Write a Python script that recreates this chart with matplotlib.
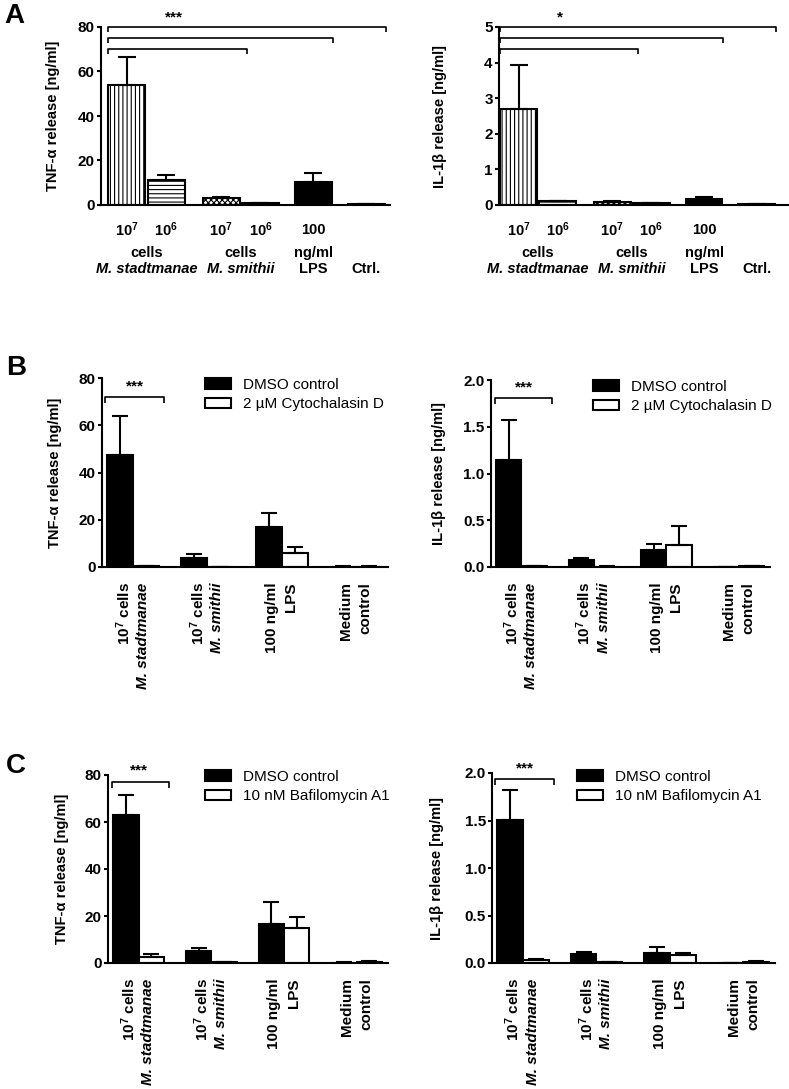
import numpy as np
import matplotlib.pyplot as plt
from matplotlib.ticker import FormatStrFormatter

plt.rcParams['font.family'] = ['Liberation Sans', 'DejaVu Sans']
plt.rcParams['font.weight'] = 'bold'
plt.rcParams['mathtext.fontset'] = 'custom'
plt.rcParams['mathtext.rm'] = 'Liberation Sans:bold'
plt.rcParams['mathtext.it'] = 'Liberation Sans:italic:bold'
plt.rcParams['mathtext.bf'] = 'Liberation Sans:bold'
plt.rcParams['hatch.linewidth'] = 0.8

# ---------------- panel A: dose comparison ----------------
a_pos = [0, 1, 2.4, 3.4, 4.75, 6.1]
a_hatch = ['||||', '----', 'xxxxxx', 'xxxxxx', '', '']
a_face = ['white', 'white', 'white', 'black', 'black', 'white']
tnf_a_mean = [54, 11.2, 3.0, 0.8, 10.5, 0.3]
tnf_a_sem = [12.5, 2.3, 0.8, 0.2, 3.7, 0.1]
il1_a_mean = [2.7, 0.11, 0.09, 0.05, 0.17, 0.03]
il1_a_sem = [1.23, 0.01, 0.01, 0.005, 0.06, 0.005]

a_dose = ['10$^7$', '10$^6$', '10$^7$', '10$^6$', '100']
a_unit = ['cells', 'cells', 'ng/ml']
a_unit_x = [0.5, 2.9, 4.75]
a_name = ['M. stadtmanae', 'M. smithii', 'LPS', 'Ctrl.']
a_name_x = [0.5, 2.9, 4.75, 6.1]
a_name_italic = [True, True, False, False]

# brackets: (height, right end)
tnf_a_brackets = [(80, 6.6), (75, 5.24), (70, 3.06)]
il1_a_brackets = [(5.0, 6.6), (4.69, 5.24), (4.38, 3.06)]

# ---------------- panels B / C: inhibitor vs DMSO ----------------
groups = [0, 1, 2, 3]
grp_line1 = ['10$^7$ cells', '10$^7$ cells', '100 ng/ml', 'Medium']
grp_line2 = ['M. stadtmanae', 'M. smithii', 'LPS', 'control']
grp_italic = [True, True, False, False]

tnf_b_dmso = [47.5, 4.0, 17.0, 0.2]
tnf_b_dmso_sem = [16.5, 1.4, 6.0, 0.05]
tnf_b_cyto = [0.3, 0.1, 6.1, 0.2]
tnf_b_cyto_sem = [0.05, 0.05, 2.4, 0.05]

il1_b_dmso = [1.14, 0.079, 0.186, 0.003]
il1_b_dmso_sem = [0.43, 0.021, 0.064, 0.002]
il1_b_cyto = [0.01, 0.005, 0.24, 0.01]
il1_b_cyto_sem = [0.002, 0.001, 0.195, 0.002]

tnf_c_dmso = [63.0, 5.3, 16.8, 0.2]
tnf_c_dmso_sem = [8.5, 1.0, 9.0, 0.05]
tnf_c_bafi = [2.5, 0.4, 14.8, 0.6]
tnf_c_bafi_sem = [1.2, 0.1, 4.7, 0.2]

il1_c_dmso = [1.51, 0.10, 0.11, 0.002]
il1_c_dmso_sem = [0.31, 0.02, 0.055, 0.001]
il1_c_bafi = [0.03, 0.01, 0.087, 0.015]
il1_c_bafi_sem = [0.01, 0.002, 0.023, 0.005]


def style_axis(ax, ylim, yticks, fmt, ylabel, label_x):
    ax.set_ylim(*ylim)
    ax.set_yticks(yticks)
    ax.yaxis.set_major_formatter(FormatStrFormatter(fmt))
    for s in ['top', 'right']:
        ax.spines[s].set_visible(False)
    for s in ['left', 'bottom']:
        ax.spines[s].set_linewidth(1.5)
    ax.set_xticks([])
    ax.tick_params(axis='y', length=3, width=1.5, pad=1.5, labelsize=11)
    ax.set_ylabel(ylabel, fontsize=10.5, fontweight='bold')
    ax.yaxis.set_label_coords(label_x, 0.5)


def bracket(ax, x0, x1, y, tick, lw=1.2):
    ax.plot([x0, x0, x1, x1], [y - tick, y, y, y - tick], color='k', lw=lw,
            clip_on=False, solid_capstyle='butt')


def panel_a(ax, mean, sem, ylim, yticks, ylabel, label_x, brackets, tick, stars, star_xy, xlim):
    for x, m, h, f in zip(a_pos, mean, a_hatch, a_face):
        ax.bar(x, m, width=0.94, color=f, edgecolor='black', linewidth=1.5, hatch=h)
    ax.errorbar(a_pos, mean, yerr=[np.zeros(len(sem)), sem], fmt='none', ecolor='black',
                elinewidth=1.5, capsize=6.5, capthick=1.5)
    ax.set_xlim(*xlim)
    style_axis(ax, ylim, yticks, '%d', ylabel, label_x)
    for y, x1 in brackets:
        bracket(ax, -0.47, x1, y, tick)
    ax.text(star_xy[0], star_xy[1], stars, ha='center', va='center', fontsize=11,
            clip_on=False)
    tr = ('data', 'axes fraction')
    for x, t in zip(a_pos, a_dose):
        ax.annotate(t, (x, 0), xycoords=tr, xytext=(0, -18), textcoords='offset points',
                    ha='center', va='center', fontsize=10.5)
    for x, t in zip(a_unit_x, a_unit):
        ax.annotate(t, (x, 0), xycoords=tr, xytext=(0, -34.5), textcoords='offset points',
                    ha='center', va='center', fontsize=10.5)
    for x, t, it in zip(a_name_x, a_name, a_name_italic):
        ax.annotate(t, (x, 0), xycoords=tr, xytext=(0, -46), textcoords='offset points',
                    ha='center', va='center', fontsize=10.5,
                    style='italic' if it else 'normal')


def panel_bc(ax, dmso, dmso_sem, treat, treat_sem, treat_label, ylim, yticks, fmt,
             ylabel, label_x, br, star_xy, leg_anchor):
    w = 0.35
    xd = np.array(groups) - w / 2
    xt = np.array(groups) + w / 2
    b1 = ax.bar(xd, dmso, width=w, color='black', edgecolor='black', linewidth=1.5,
                label='DMSO control')
    b2 = ax.bar(xt, treat, width=w, color='white', edgecolor='black', linewidth=1.5,
                label=treat_label)
    ax.errorbar(xd, dmso, yerr=[np.zeros(4), dmso_sem], fmt='none', ecolor='black',
                elinewidth=1.5, capsize=5.5, capthick=1.5)
    ax.errorbar(xt, treat, yerr=[np.zeros(4), treat_sem], fmt='none', ecolor='black',
                elinewidth=1.5, capsize=5.5, capthick=1.5)
    ax.set_xlim(-0.42, 3.43)
    style_axis(ax, ylim, yticks, fmt, ylabel, label_x)
    bracket(ax, br[0], br[1], br[2], br[3])
    ax.text(star_xy[0], star_xy[1], '***', ha='center', va='center', fontsize=11,
            clip_on=False)
    ax.legend(handles=[b1, b2], loc='upper left', bbox_to_anchor=leg_anchor, frameon=False,
              borderpad=0, borderaxespad=0, handlelength=1.7, handleheight=0.7,
              handletextpad=0.8, labelspacing=0.35, prop={'weight': 'normal', 'size': 11})
    tr = ('data', 'axes fraction')
    for g, l1, l2, it in zip(groups, grp_line1, grp_line2, grp_italic):
        ax.annotate(l1, (g, 0), xycoords=tr, xytext=(-7, -11), textcoords='offset points',
                    ha='center', va='top', rotation=90, fontsize=11)
        ax.annotate(l2, (g, 0), xycoords=tr, xytext=(7, -11), textcoords='offset points',
                    ha='center', va='top', rotation=90, fontsize=11,
                    style='italic' if it else 'normal')


W, H = 789, 1089
fig = plt.figure(figsize=(W / 100, H / 100), dpi=100)


def add_axes(x0, x1, y0, y1):
    return fig.add_axes([x0 / W, 1 - y1 / H, (x1 - x0) / W, (y1 - y0) / H])


ax = add_axes(101, 390, 27, 205)
panel_a(ax, tnf_a_mean, tnf_a_sem, (0, 80), [0, 20, 40, 60, 80], 'TNF-α release [ng/ml]',
        -0.142, tnf_a_brackets, 2.2, '***', (1.2, 84.5), (-0.66, 6.7))
ax = add_axes(499, 788, 27, 205)
panel_a(ax, il1_a_mean, il1_a_sem, (0, 5), [0, 1, 2, 3, 4, 5], 'IL-1β release [ng/ml]',
        -0.18, il1_a_brackets, 0.14, '*', (1.06, 5.28), (-0.5, 6.9))

ax = add_axes(102, 388, 378, 567)
panel_bc(ax, tnf_b_dmso, tnf_b_dmso_sem, tnf_b_cyto, tnf_b_cyto_sem, '2 µM Cytochalasin D',
         (0, 80), [0, 20, 40, 60, 80], '%d', 'TNF-α release [ng/ml]', -0.14,
         (-0.38, 0.42, 72, 2.5), (0.03, 76.5), (0.36, 1.0))
ax = add_axes(491, 770, 380, 567)
panel_bc(ax, il1_b_dmso, il1_b_dmso_sem, il1_b_cyto, il1_b_cyto_sem, '2 µM Cytochalasin D',
         (0, 2.0), [0, 0.5, 1.0, 1.5, 2.0], '%.1f', 'IL-1β release [ng/ml]', -0.161,
         (-0.36, 0.42, 1.81, 0.065), (0.03, 1.92), (0.366, 1.0))

ax = add_axes(108, 388, 775, 963)
panel_bc(ax, tnf_c_dmso, tnf_c_dmso_sem, tnf_c_bafi, tnf_c_bafi_sem, '10 nM Bafilomycin A1',
         (0, 80), [0, 20, 40, 60, 80], '%d', 'TNF-α release [ng/ml]', -0.139,
         (-0.36, 0.42, 77, 2.5), (0.0, 82), (0.346, 1.027))
ax = add_axes(492, 775, 773, 963)
panel_bc(ax, il1_c_dmso, il1_c_dmso_sem, il1_c_bafi, il1_c_bafi_sem, '10 nM Bafilomycin A1',
         (0, 2.0), [0, 0.5, 1.0, 1.5, 2.0], '%.1f', 'IL-1β release [ng/ml]', -0.17,
         (-0.38, 0.42, 1.94, 0.065), (0.03, 2.05), (0.30, 1.016))

for letter, (x, y) in zip(['A', 'B', 'C'], [(14, 16), (16, 368), (16, 766)]):
    fig.text(x / W, 1 - y / H, letter, ha='center', va='center', fontsize=20, fontweight='bold')

fig.savefig('out.png', dpi=100)
